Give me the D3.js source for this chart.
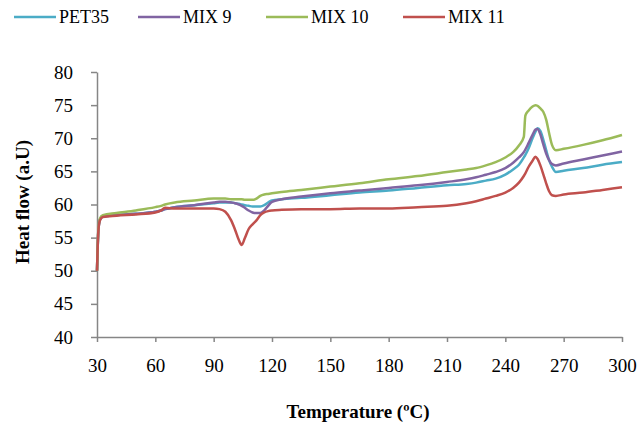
<!DOCTYPE html>
<html>
<head>
<meta charset="utf-8">
<script src="https://cdn.jsdelivr.net/npm/d3@7"></script>
<style>
  body { margin: 0; background: #fff; }
  svg text { font-family: "Liberation Serif", "Times New Roman", Tinos, "DejaVu Serif", serif !important; }
</style>
</head>
<body>
<svg id="chart" width="640" height="432"></svg>
<script>
var temps = [30, 30.7, 31.5, 33, 40, 50, 60, 63, 65, 70, 80, 90, 93, 96, 99, 101, 103, 104.4, 106, 108,
             110, 112, 114, 116, 118, 120, 125, 135, 150, 165, 180, 195, 210, 220, 225, 230, 235, 240, 244, 247,
             249.5, 250.3, 252, 254, 255.5, 256.5, 258, 259.5, 261, 262.5, 264, 266, 270, 280, 290, 300];

var pet35 = [50, 56, 57.7, 58.2, 58.4, 58.6, 58.9, 59.1, 59.3, 59.6, 59.9, 60.2, 60.3, 60.3, 60.3, 60.2, 60.1, 60.0, 59.9, 59.8,
             59.7, 59.7, 59.7, 59.9, 60.3, 60.6, 60.8, 61.0, 61.4, 61.8, 62.1, 62.5, 62.9, 63.1, 63.3, 63.6, 63.9, 64.5, 65.3, 66.0,
             67.1, 67.5, 68.5, 70.0, 71.0, 71.5, 71.1, 69.8, 68.2, 66.7, 65.7, 64.9, 65.1, 65.5, 66.0, 66.4];

var mix9 = [50, 56, 57.7, 58.2, 58.4, 58.6, 58.9, 59.1, 59.3, 59.6, 59.9, 60.3, 60.4, 60.4, 60.3, 60.2, 60.0, 59.8, 59.5, 59.1,
            58.8, 58.7, 58.7, 59.1, 59.8, 60.4, 60.8, 61.2, 61.7, 62.1, 62.5, 62.9, 63.4, 63.8, 64.1, 64.5, 64.9, 65.5, 66.3, 67.1,
            67.9, 68.3, 69.3, 70.5, 71.3, 71.4, 70.6, 69.1, 67.7, 66.7, 66.1, 65.9, 66.2, 66.8, 67.4, 68.0];

var mix10 = [50, 56.2, 57.9, 58.4, 58.7, 59.1, 59.6, 59.8, 60.0, 60.3, 60.6, 60.9, 60.9, 60.9, 60.8, 60.8, 60.8, 60.8, 60.7, 60.7,
             60.7, 60.9, 61.3, 61.5, 61.6, 61.7, 61.9, 62.2, 62.7, 63.2, 63.8, 64.3, 64.9, 65.3, 65.5, 65.9, 66.4, 67.1, 67.9, 68.9,
             70.2, 73.4, 74.2, 74.8, 75.0, 74.9, 74.5, 74.0, 72.8, 70.8, 69.0, 68.2, 68.4, 69.0, 69.7, 70.5];

var mix11 = [50, 56, 57.6, 58.1, 58.3, 58.5, 58.8, 59.1, 59.5, 59.4, 59.4, 59.4, 59.3, 58.9, 57.6, 56.2, 54.6, 53.9, 54.9, 56.3,
             57.0, 57.6, 58.4, 58.8, 59.0, 59.1, 59.2, 59.3, 59.3, 59.4, 59.4, 59.6, 59.8, 60.2, 60.5, 60.9, 61.3, 61.8, 62.5, 63.3,
             64.3, 64.7, 65.7, 66.6, 67.2, 66.9, 65.9, 64.6, 63.2, 62.0, 61.4, 61.3, 61.5, 61.8, 62.2, 62.6];

var seriesNames = ['PET35', 'MIX 9', 'MIX 10', 'MIX 11'];
var seriesColors = ['#4BACC6', '#8064A2', '#9BBB59', '#C0504D'];
var xTicks = [30, 60, 90, 120, 150, 180, 210, 240, 270, 300];
var yTicks = [40, 45, 50, 55, 60, 65, 70, 75, 80];

var svg = d3.select('#chart');
var axisColor = '#868686';

var x = d3.scaleLinear().domain([30, 300]).range([97, 622]);
var y = d3.scaleLinear().domain([40, 80]).range([337, 72]);

// axes
var xAxis = svg.append('g')
               .attr('transform', 'translate(0,' + y(40) + ')')
               .call(d3.axisBottom(x).tickValues(xTicks).tickSize(5).tickPadding(17).tickSizeOuter(0));

var yAxis = svg.append('g')
               .attr('transform', 'translate(' + x(30) + ',0)')
               .call(d3.axisLeft(y).tickValues(yTicks).tickSize(6).tickPadding(18).tickSizeOuter(0));

[xAxis, yAxis].forEach(function(a){
    a.attr('font-family', null);
    a.selectAll('path, line').attr('stroke', axisColor).attr('stroke-width', 1.5);
    a.selectAll('text').attr('fill', '#000')
     .style('font-size', '19px');
});

// lines
var allSeries = [pet35, mix9, mix10, mix11];
var line = d3.line()
             .x(function(d, i){return x(temps[i]);})
             .y(function(d){return y(d);})
             .curve(d3.curveMonotoneX);

svg.selectAll('path.series')
   .data(allSeries)
   .enter()
   .append('path')
   .attr('class', 'series')
   .attr('d', line)
   .attr('fill', 'none')
   .attr('stroke', function(d, i){return seriesColors[i];})
   .attr('stroke-width', 2.5)
   .attr('stroke-linejoin', 'round');

// titles
svg.append('text')
   .text('Temperature (ºC)')
   .attr('x', 358)
   .attr('y', 418)
   .attr('text-anchor', 'middle')
   .style('font-weight', 'bold')
   .style('font-size', '19px');

svg.append('text')
   .text('Heat flow (a.U)')
   .attr('transform', 'translate(29,202) rotate(-90)')
   .attr('text-anchor', 'middle')
   .style('font-weight', 'bold')
   .style('font-size', '19px');

// legend
var legendX = [14, 138, 266, 403];
var legend = svg.selectAll('g.legend')
                .data(seriesNames)
                .enter()
                .append('g')
                .attr('transform', function(d, i){return 'translate(' + legendX[i] + ',17)';});

legend.append('line')
      .attr('x1', 0).attr('x2', 42)
      .attr('y1', 0).attr('y2', 0)
      .attr('stroke', function(d, i){return seriesColors[i];})
      .attr('stroke-width', 2.5);

legend.append('text')
      .text(function(d){return d;})
      .attr('x', 45)
      .attr('y', 6)
      .style('font-size', '18px');
</script>
</body>
</html>
